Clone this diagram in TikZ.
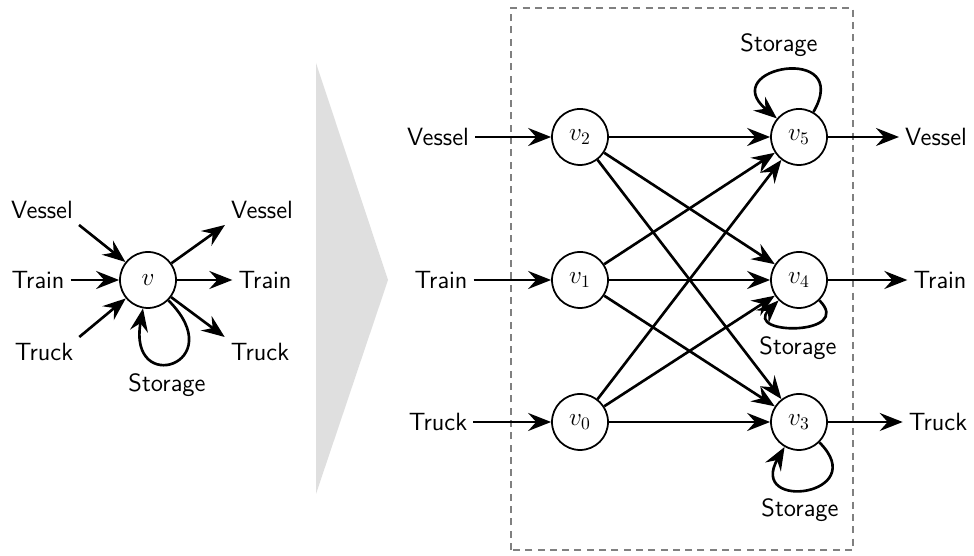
\documentclass[tikz,border=0pt]{standalone}
\usetikzlibrary{arrows.meta}
\begin{document}
\begin{tikzpicture}[font=\sffamily\fontsize{14.2}{17}\selectfont,
  port/.style={draw, circle, minimum size=1.12cm, inner sep=0pt, line width=1pt},
  flow/.style={line width=1.5pt, -{Stealth[length=4.6mm, width=3.6mm, inset=1.6mm]}}]
\useasboundingbox (0,0) rectangle (19.48,11.12);
% one terminal with all its flows
\node[port] (v) at (2.96,5.52) {$v$};
\node (vin) at (0.84,6.92) {Vessel};
\node (tin) at (0.76,5.52) {Train};
\node (kin) at (0.88,4.08) {Truck};
\node (vout) at (5.24,6.92) {Vessel};
\node (tout) at (5.30,5.52) {Train};
\node (kout) at (5.20,4.08) {Truck};
\node (sto) at (3.34,3.42) {Storage};
\draw[flow] (vin.south east) -- (v);
\draw[flow] (tin) -- (v);
\draw[flow] (kin.north east) -- (v);
\draw[flow] (v) -- (vout.south west);
\draw[flow] (v) -- (tout);
\draw[flow] (v) -- (kout.north west);
\draw[flow] (v) to[out=-45, in=-100, distance=1.8cm] (v);
% expansion arrow
\fill[gray!25] (6.32,9.86) -- (7.76,5.52) -- (6.32,1.24) -- cycle;
% expanded terminal
\draw[gray, line width=1.4pt, dash pattern=on 4pt off 3pt] (10.22,0.12) rectangle (17.06,10.96);
\node[port] (v2) at (11.60,8.38) {$v_2$};
\node[port] (v1) at (11.60,5.52) {$v_1$};
\node[port] (v0) at (11.60,2.68) {$v_0$};
\node[port] (v5) at (15.98,8.38) {$v_5$};
\node[port] (v4) at (15.98,5.52) {$v_4$};
\node[port] (v3) at (15.98,2.68) {$v_3$};
\node (vin2) at (8.76,8.38) {Vessel};
\node (tin2) at (8.82,5.52) {Train};
\node (kin2) at (8.76,2.68) {Truck};
\node (vout2) at (18.72,8.38) {Vessel};
\node (tout2) at (18.80,5.52) {Train};
\node (kout2) at (18.76,2.68) {Truck};
\node (sto5) at (15.58,10.22) {Storage};
\node (sto4) at (15.96,4.16) {Storage};
\node (sto3) at (16.00,0.92) {Storage};
\draw[flow] (vin2) -- (v2);
\draw[flow] (tin2) -- (v1);
\draw[flow] (kin2) -- (v0);
\draw[flow] (v5) -- (vout2);
\draw[flow] (v4) -- (tout2);
\draw[flow] (v3) -- (kout2);
\draw[flow] (v2) -- (v5);
\draw[flow] (v2) -- (v4);
\draw[flow] (v2) -- (v3);
\draw[flow] (v1) -- (v5);
\draw[flow] (v1) -- (v4);
\draw[flow] (v1) -- (v3);
\draw[flow] (v0) -- (v5);
\draw[flow] (v0) -- (v4);
\draw[flow] (v0) -- (v3);
\draw[flow] (v5) to[out=60, in=140, distance=1.6cm] (v5);
\draw[flow] (v4) to[out=-45, in=-135, distance=1cm] (v4);
\draw[flow] (v3) to[out=-45, in=-120, distance=1.5cm] (v3);
\end{tikzpicture}
\end{document}
